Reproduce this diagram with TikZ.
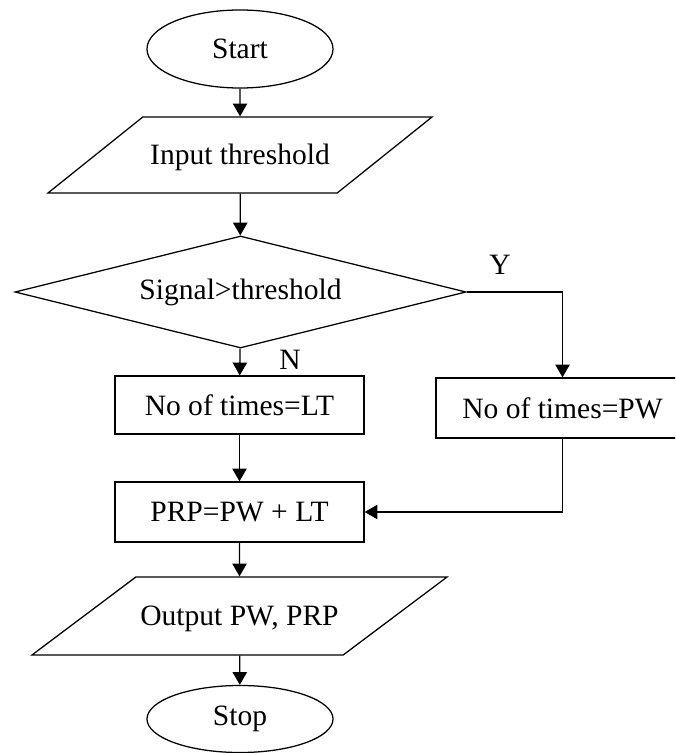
\documentclass[tikz,border=0pt]{standalone}
\usepackage{fontspec}
\setmainfont{Liberation Serif}
\usetikzlibrary{
    positioning,
    arrows.meta,
    shapes.geometric
}

\begin{document}
\begin{tikzpicture}[x=0.025cm, y=-0.025cm, >={Triangle[width=0.36cm, length=0.32cm]},
    every node/.style={font=\fontsize{21}{24}\selectfont},
    flowline/.style={->, line width=0.9pt},
    terminal/.style={draw, ellipse, line width=0.9pt, minimum width=4.65cm, inner sep=0pt},
    iobox/.style={draw, trapezium, trapezium stretches body=true, line width=0.9pt, inner sep=0pt},
    decision/.style={draw, diamond, aspect=4, line width=0.9pt, inner sep=0pt, minimum width=11.275cm, minimum height=2.8cm},
    process/.style={draw, rectangle, line width=0.9pt, inner sep=0pt}]
            % 画面の範囲
            \clip (0,0) rectangle (675,753);
            
            % 開始と入力
            \node[terminal, minimum height=1.95cm] (start) at (240,49) {Start};
            \node[iobox, minimum width=9.6cm, text height=1.195cm, text depth=0.705cm,
                trapezium left angle=38.7, trapezium right angle=141.3] (input) at (240,155) {Input threshold};
            
            % 判定
            \node[decision] (signal) at (240.5,292) {Signal>threshold};
            \node (yes) at (500,265) {Y};
            \node (no) at (290,360) {N};
            
            % 処理
            \node[process, minimum width=6.225cm, minimum height=1.45cm] (timesLT) at (239.5,405) {No of times=LT};
            \node[process, minimum width=6.325cm, minimum height=1.5cm] (timesPW) at (562.5,408) {No of times=PW};
            \node[process, minimum width=6.225cm, minimum height=1.5cm] (prp) at (239.5,512) {PRP=PW + LT};
            
            % 出力と終了
            \node[iobox, minimum width=10.375cm, text height=1.22cm, text depth=0.73cm,
                trapezium left angle=36.9, trapezium right angle=143.1] (output) at (239.5,616) {Output PW, PRP};
            \node[terminal, minimum height=1.675cm] (stop) at (240,719) {Stop};
            
            % 矢印
            \draw[flowline] (start) -- (input);
            \draw[flowline] (input) -- (signal);
            \draw[flowline] (signal) -- (timesLT);
            \draw[flowline] (signal.east) -| (timesPW.north);
            \draw[flowline] (timesLT) -- (prp);
            \draw[flowline] (timesPW.south) |- (prp.east);
            \draw[flowline] (prp) -- (output);
            \draw[flowline] (output) -- (stop);
        \end{tikzpicture}
\end{document}
